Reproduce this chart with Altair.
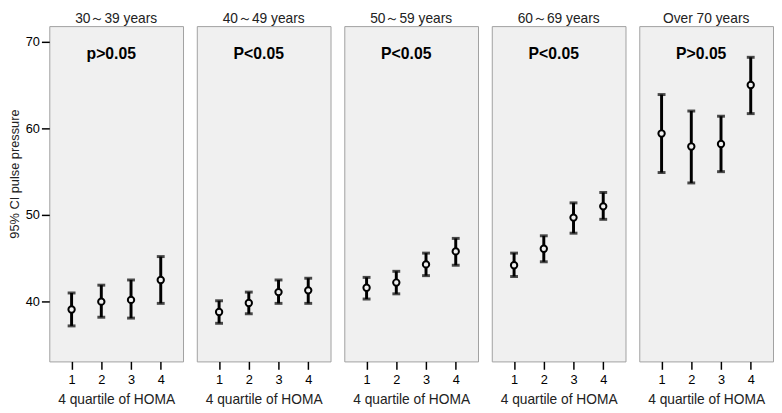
import altair as alt
import pandas as pd

groups = ["30～39 years", "40～49 years", "50～59 years", "60～69 years", "Over 70 years"]
p_labels = ["p>0.05", "P<0.05", "P<0.05", "P<0.05", "P>0.05"]
quartiles = [1, 2, 3, 4]
means = [
    [39.1, 40.0, 40.2, 42.5],
    [38.8, 39.85, 41.1, 41.3],
    [41.6, 42.2, 44.3, 45.8],
    [44.2, 46.1, 49.7, 51.0],
    [59.4, 57.9, 58.2, 65.0],
]
lows = [
    [37.2, 38.2, 38.1, 39.8],
    [37.5, 38.6, 39.8, 39.8],
    [40.3, 40.9, 43.0, 44.2],
    [42.9, 44.6, 47.9, 49.5],
    [54.9, 53.7, 55.0, 61.7],
]
highs = [
    [41.0, 41.9, 42.5, 45.2],
    [40.1, 41.1, 42.5, 42.7],
    [42.8, 43.5, 45.6, 47.3],
    [45.6, 47.6, 51.4, 52.6],
    [63.9, 62.0, 61.4, 68.2],
]
y_ticks = [40, 50, 60, 70]
y_domain = [33.1, 71.8]
x_domain = [0.25, 4.75]

FONT = "Liberation Sans"


def panel(i):
    df = pd.DataFrame({"q": quartiles, "mean": means[i], "lo": lows[i], "hi": highs[i]})
    base = alt.Chart(df)
    if i == 0:
        yaxis = alt.Axis(values=y_ticks, title="95% CI pulse pressure", grid=False,
                         domain=False, tickSize=8, tickColor="black", tickWidth=1.5,
                         labelFontSize=13, labelPadding=2, titleFontSize=13,
                         titleAngle=-90, titleX=-28, titleY=150, titleBaseline="bottom")
    else:
        yaxis = None
    yscale = alt.Scale(domain=y_domain, nice=False, zero=False)
    x = alt.X("q:Q", scale=alt.Scale(domain=x_domain, nice=False, zero=False),
              axis=alt.Axis(values=quartiles, format="d", title="4 quartile of HOMA",
                            grid=False, domain=False, tickSize=8, tickColor="black",
                            tickWidth=1.5, labelFontSize=13, titleFontSize=14,
                            labelPadding=4, titlePadding=7, labelAngle=0))
    bars = base.mark_errorbar(ticks=True, size=8, thickness=3, color="black").encode(
        x=x,
        y=alt.Y("lo:Q", scale=yscale, axis=yaxis),
        y2="hi:Q",
    )
    pts = base.mark_point(shape="circle", filled=True, fill="#f0f0f0", stroke="black",
                          strokeWidth=2, size=42, opacity=1).encode(
        x=x,
        y=alt.Y("mean:Q", scale=yscale, axis=yaxis),
    )
    txt = alt.Chart(pd.DataFrame({"t": [p_labels[i]]})).mark_text(
        fontSize=16, fontWeight="bold", font=FONT, color="black", baseline="middle"
    ).encode(text="t:N", x=alt.value(63), y=alt.value(28))
    return alt.layer(bars, pts, txt).properties(
        width=136, height=341,
        title=alt.TitleParams(groups[i], fontSize=14, fontWeight="normal", offset=0,
                              color="#222222", font=FONT),
    )


chart = alt.hconcat(*[panel(i) for i in range(5)], spacing=12).properties(
    padding={"left": 0, "top": 0, "right": 0, "bottom": 0}
).configure_view(
    fill="#f0f0f0", stroke="#a0a0a0", strokeWidth=1
).configure_axis(
    labelFont=FONT, titleFont=FONT, labelColor="black", titleColor="#222222",
    titleFontWeight="normal"
)

chart.save("out.html", embed_options={"renderer": "svg", "actions": False})
